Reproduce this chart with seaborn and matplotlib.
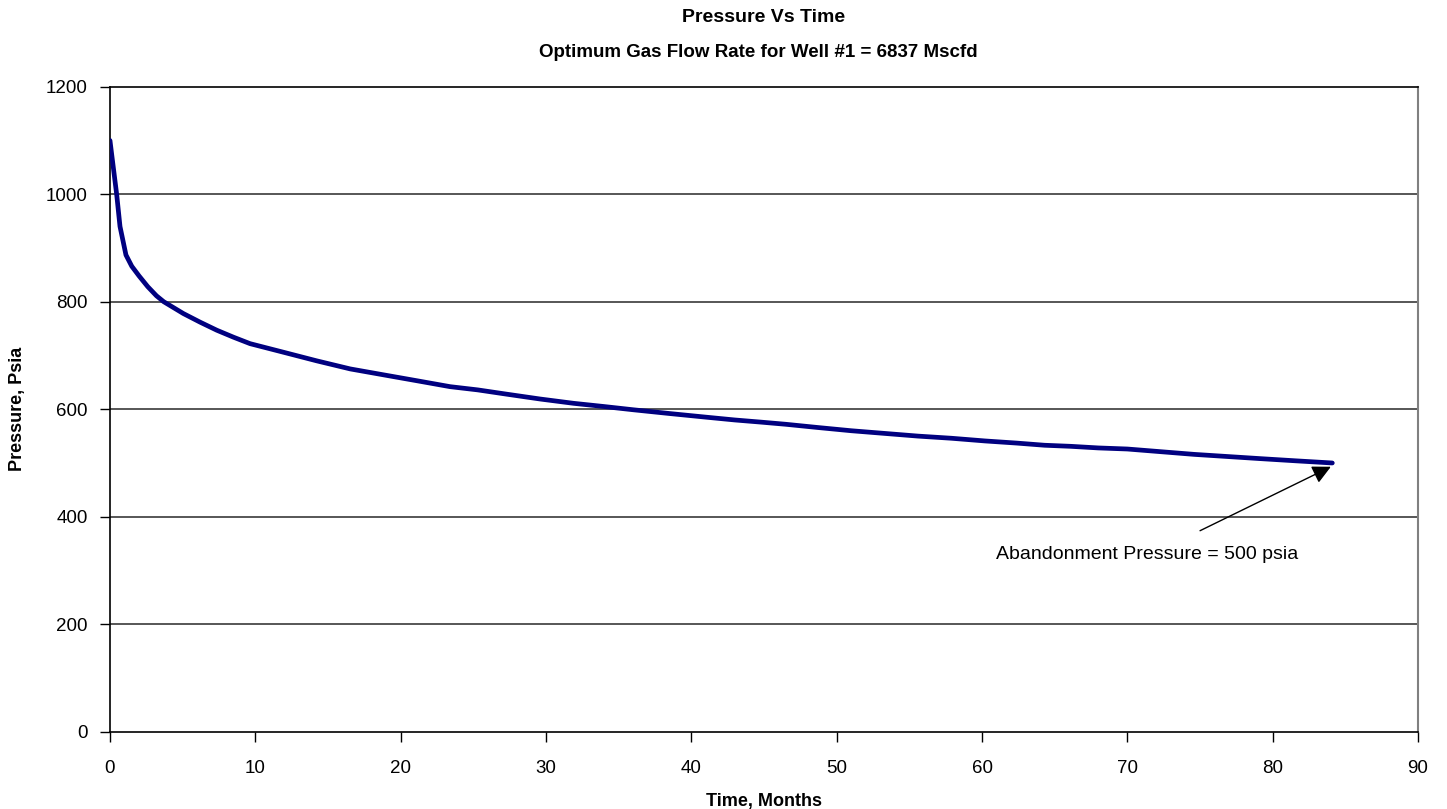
import matplotlib
matplotlib.use("Agg")
import matplotlib.pyplot as plt
import pandas as pd
import seaborn as sns

# Pressure decline
months = [0, 0.1, 0.46, 0.69, 1.1, 1.5, 2.0, 2.6, 3.2, 3.7, 5.05, 6.2, 7.35,
          8.5, 9.64, 11.94, 14.23, 16.53, 18.82, 21.12, 23.4, 25.3, 27.3,
          29.6, 31.9, 34.0, 36.0, 38.5, 41.1, 43.0, 44.8, 46.5, 48.7, 51.0,
          53.3, 55.6, 57.9, 60.2, 62.4, 64.3, 66.1, 68.0, 70.0, 72.3, 74.6,
          76.9, 79.2, 81.6, 84.1]
pressure = [1100, 1078, 1000, 940, 887, 866, 848, 828, 811, 800, 778, 762, 747,
            734, 722, 706, 690, 675, 664, 653, 642, 636, 628,
            619, 611, 605, 599, 592, 585, 580, 576, 572, 566, 560,
            555, 550, 546, 541, 537, 533, 531, 528, 526, 521, 516,
            512, 508, 504, 500]

x_ticks = list(range(0, 100, 10))
y_ticks = list(range(0, 1400, 200))

df = pd.DataFrame({"Time": months, "Pressure": pressure})

sns.set_style("ticks")
plt.rcParams["font.family"] = ["Liberation Sans", "DejaVu Sans"]
plt.rcParams["text.color"] = "black"
plt.rcParams["axes.labelcolor"] = "black"

fig = plt.figure(figsize=(14.47, 8.09), dpi=100)
ax = fig.add_axes([0.076, 0.0955, 0.904, 0.7973])

for yv in y_ticks[1:-1]:
    ax.axhline(yv, color="#3a3a3a", lw=1.2, zorder=1)

sns.lineplot(data=df, x="Time", y="Pressure", color="#000080", lw=3.4,
             ax=ax, zorder=3)

ax.set_xlim(0, 90)
ax.set_ylim(0, 1200)
ax.set_xticks(x_ticks)
ax.set_yticks(y_ticks)
ax.tick_params(labelsize=13.5, length=7, width=1, direction="out",
               colors="black")
ax.tick_params(axis="x", pad=13)
ax.tick_params(axis="y", pad=9)

for side in ["left", "bottom", "top"]:
    ax.spines[side].set_color("black")
    ax.spines[side].set_linewidth(1.2)
ax.spines["right"].set_color("#808080")
ax.spines["right"].set_linewidth(1.5)

ax.set_xlabel("Time, Months", fontsize=13, fontweight="bold", labelpad=12)
ax.set_ylabel("Pressure, Psia", fontsize=13, fontweight="bold", labelpad=14)

fig.text(0.528, 0.978, "Pressure Vs Time", ha="center", va="center",
         fontsize=14, fontweight="bold")
fig.text(0.524, 0.935, "Optimum Gas Flow Rate for Well #1 = 6837 Mscfd",
         ha="center", va="center", fontsize=13.5, fontweight="bold")

ax.annotate("", xy=(84.0, 493), xytext=(75.0, 374),
            arrowprops=dict(arrowstyle="-|>", color="black", lw=1,
                            mutation_scale=28, shrinkA=0, shrinkB=0),
            zorder=4)
ax.text(71.35, 329, "Abandonment Pressure = 500 psia", ha="center",
        va="center", fontsize=14)

fig.savefig("out.png", dpi=100)
